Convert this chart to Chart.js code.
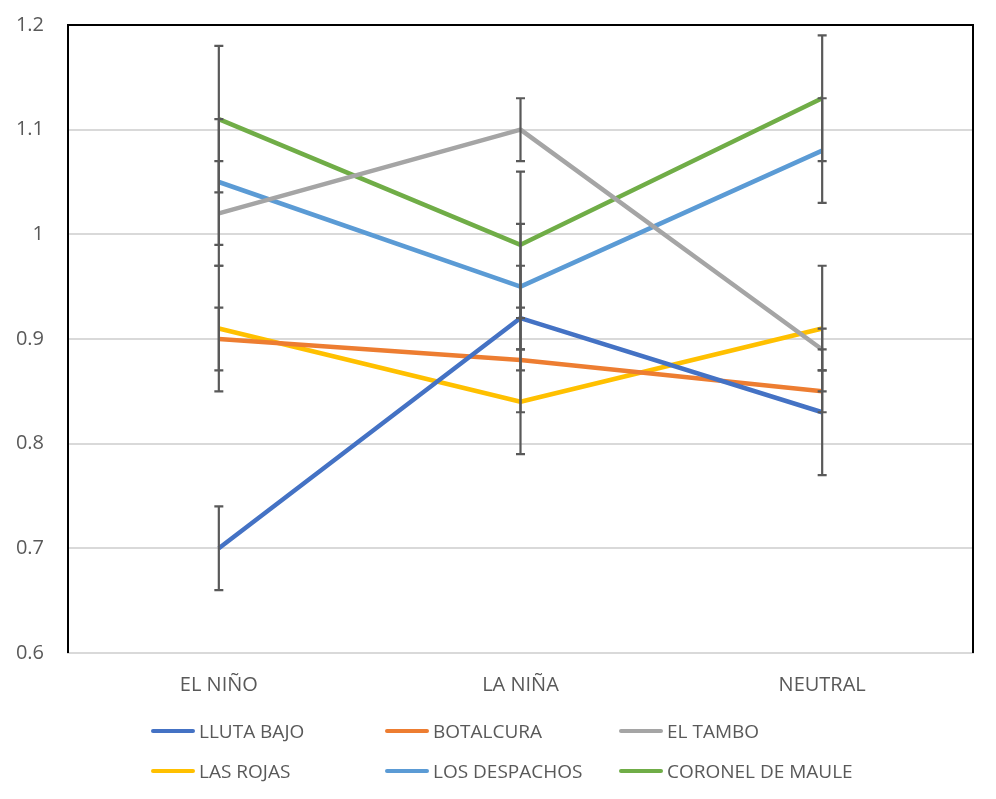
<!DOCTYPE html>
<html>
<head>
<meta charset="utf-8">
<script src="https://cdn.jsdelivr.net/npm/chart.js@4.4.1/dist/chart.umd.min.js"></script>
<style>
    html, body { margin: 0; padding: 0; background: #fff; }
    #wrap { position: relative; width: 996px; height: 799px; }
    #leyenda {
        position: absolute; left: 151px; top: 711px;
        display: grid; grid-template-columns: 234px 234px 234px; grid-auto-rows: 40px;
        font-family: "Open Sans", sans-serif; font-size: 19px; color: #595959;
    }
    .item { display: flex; align-items: center; white-space: nowrap; }
    .linea { width: 44px; height: 4px; border-radius: 2px; margin-right: 4px; }
</style>
</head>
<body>
<div id="wrap">
    <canvas id="grafico" width="996" height="799"></canvas>
    <div id="leyenda"></div>
</div>
<script>
const categorias = ['EL NIÑO', 'LA NIÑA', 'NEUTRAL'];

const series = ['LLUTA BAJO', 'BOTALCURA', 'EL TAMBO', 'LAS ROJAS', 'LOS DESPACHOS', 'CORONEL DE MAULE'];
const colores = ['#4472C4', '#ED7D31', '#A5A5A5', '#FFC000', '#5B9BD5', '#70AD47'];

const llutaBajo     = [0.70, 0.92, 0.83];
const botalcura     = [0.90, 0.88, 0.85];
const elTambo       = [1.02, 1.10, 0.89];
const lasRojas      = [0.91, 0.84, 0.91];
const losDespachos  = [1.05, 0.95, 1.08];
const coronelMaule  = [1.11, 0.99, 1.13];

// error (+/-) por serie y categoria
const errLluta      = [0.04, 0.05, 0.06];
const errBotalcura  = [0.03, 0.05, 0.02];
const errTambo      = [0.05, 0.03, 0.02];
const errRojas      = [0.06, 0.05, 0.06];
const errDespachos  = [0.06, 0.06, 0.05];
const errCoronel    = [0.07, 0.07, 0.06];

const valores = [llutaBajo, botalcura, elTambo, lasRojas, losDespachos, coronelMaule];
const errores = [errLluta, errBotalcura, errTambo, errRojas, errDespachos, errCoronel];

const yTicks = [0.6, 0.7, 0.8, 0.9, 1, 1.1, 1.2];

const barrasError = {
    id: 'barrasError',
    afterDatasetsDraw(chart) {
        const ctx = chart.ctx;
        const y = chart.scales.y;
        ctx.save();
        ctx.strokeStyle = '#595959';
        ctx.lineWidth = 2.2;
        chart.data.datasets.forEach((ds, i) => {
            const meta = chart.getDatasetMeta(i);
            meta.data.forEach((pt, j) => {
                const v = ds.data[j];
                const e = errores[i][j];
                const y1 = y.getPixelForValue(v + e);
                const y2 = y.getPixelForValue(v - e);
                ctx.beginPath();
                ctx.moveTo(pt.x, y1); ctx.lineTo(pt.x, y2);
                ctx.moveTo(pt.x - 4.5, y1); ctx.lineTo(pt.x + 4.5, y1);
                ctx.moveTo(pt.x - 4.5, y2); ctx.lineTo(pt.x + 4.5, y2);
                ctx.stroke();
            });
        });
        ctx.restore();
    }
};

const marco = {
    id: 'marco',
    afterDraw(chart) {
        const a = chart.chartArea;
        const ctx = chart.ctx;
        ctx.save();
        ctx.strokeStyle = '#000';
        ctx.lineWidth = 2;
        ctx.beginPath();
        ctx.moveTo(a.left, a.bottom);
        ctx.lineTo(a.left, a.top);
        ctx.lineTo(a.right, a.top);
        ctx.lineTo(a.right, a.bottom);
        ctx.stroke();
        ctx.restore();
    }
};

const ctx = document.getElementById('grafico').getContext('2d');
const chart = new Chart(ctx, {
    type: 'line',
    data: {
        labels: categorias,
        datasets: series.map((nombre, i) => ({
            label: nombre,
            data: valores[i],
            borderColor: colores[i],
            backgroundColor: colores[i],
            borderWidth: 4.5,
            borderJoinStyle: 'round',
            pointRadius: 0,
            tension: 0,
            fill: false
        }))
    },
    options: {
        responsive: false,
        animation: false,
        layout: { padding: { left: 0, top: 25, right: 23, bottom: 86 } },
        plugins: {
            legend: { display: false },
            tooltip: { enabled: false }
        },
        scales: {
            x: {
                offset: true,
                grid: { display: false, drawTicks: false },
                border: { display: true, color: '#D9D9D9', width: 2 },
                ticks: {
                    padding: 20,
                    color: '#595959',
                    font: { family: 'Open Sans', size: 20 }
                },
                afterFit: s => {
                    s.height = 60;
                    s.paddingLeft = 0;
                    s.paddingRight = 0;
                }
            },
            y: {
                min: 0.6,
                max: 1.2,
                afterBuildTicks: s => { s.ticks = yTicks.map(v => ({ value: v })); },
                grid: { color: '#D9D9D9', lineWidth: 2, drawTicks: false },
                border: { display: false },
                ticks: {
                    padding: 24,
                    color: '#595959',
                    font: { family: 'Open Sans', size: 20 },
                    callback: v => String(Math.round(v * 10) / 10)
                },
                afterFit: s => {
                    s.width = 68;
                    s.paddingTop = 0;
                    s.paddingBottom = 0;
                }
            }
        }
    },
    plugins: [barrasError, marco]
});

const leyenda = document.getElementById('leyenda');
chart.data.datasets.forEach(ds => {
    const item = document.createElement('div');
    item.className = 'item';
    const linea = document.createElement('span');
    linea.className = 'linea';
    linea.style.background = ds.borderColor;
    const txt = document.createElement('span');
    txt.textContent = ds.label;
    item.appendChild(linea);
    item.appendChild(txt);
    leyenda.appendChild(item);
});
</script>
</body>
</html>
